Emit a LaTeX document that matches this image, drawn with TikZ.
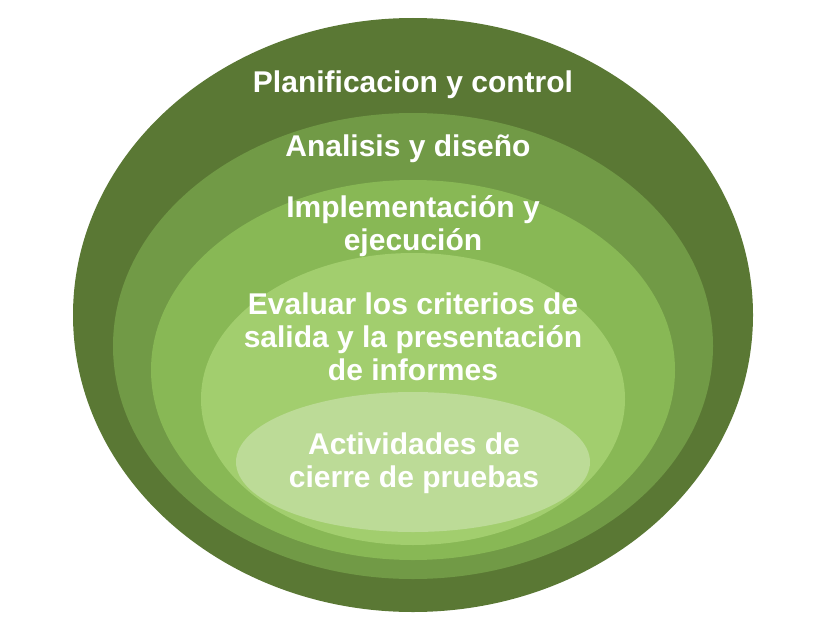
\documentclass[tikz,border=0pt]{standalone}
\usepackage{fontspec}
\setmainfont{Liberation Sans}
\usepackage{tikz}
\usetikzlibrary{positioning}

\definecolor{levelA}{HTML}{5A7834}
\definecolor{levelB}{HTML}{719A46}
\definecolor{levelC}{HTML}{88B855}
\definecolor{levelD}{HTML}{A2CE6E}
\definecolor{levelE}{HTML}{BCDB97}

\tikzset{
  phase/.style={text=white, align=center, inner sep=0pt,
    font=\bfseries\fontsize{30}{33}\selectfont}
}

\begin{document}
\begin{tikzpicture}[x=1pt,y=-1pt]
    \useasboundingbox (0,0) rectangle (837,642);
    % Nested levels, outer to inner
    \fill[levelA] (413,315) ellipse [x radius=340pt, y radius=297pt];
    \fill[levelB] (413,346) ellipse [x radius=300pt, y radius=233pt];
    \fill[levelC] (413,370) ellipse [x radius=262pt, y radius=190pt];
    \fill[levelD] (413,399) ellipse [x radius=212pt, y radius=146pt];
    \fill[levelE] (413,462) ellipse [x radius=177pt, y radius=70pt];
    % Labels
    \node[phase] (plan) at (413,85) {Planificacion y control};
    \node[phase] (analisis) at (408,149) {Analisis y diseño};
    \node[phase] (impl) at (413,226) {Implementación y\\ejecución};
    \node[phase] (eval) at (413,337) {Evaluar los criterios de\\salida y la presentación\\de informes};
    \node[phase] (cierre) at (414,463) {Actividades de\\cierre de pruebas};
\end{tikzpicture}
\end{document}
